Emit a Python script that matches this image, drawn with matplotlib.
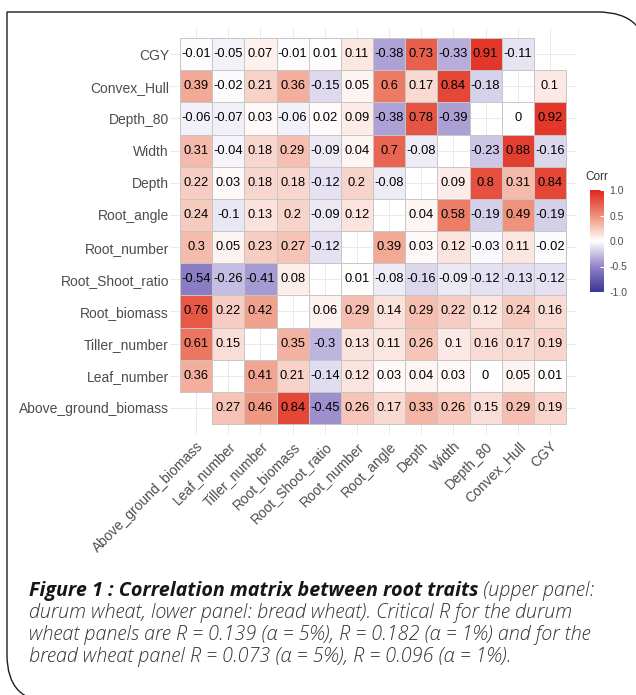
import matplotlib
matplotlib.use('Agg')
import matplotlib.pyplot as plt
import numpy as np
from matplotlib.colors import LinearSegmentedColormap, Normalize
from matplotlib.cm import ScalarMappable
from matplotlib.path import Path
from matplotlib.patches import PathPatch, Rectangle

# --- Data ---
TRAITS = ['Above_ground_biomass', 'Leaf_number', 'Tiller_number', 'Root_biomass',
          'Root_Shoot_ratio', 'Root_number', 'Root_angle', 'Depth', 'Width',
          'Depth_80', 'Convex_Hull', 'CGY']
ROWS = TRAITS[::-1]  # top to bottom

nan = np.nan
# one row per trait in ROWS order, columns in TRAITS order (diagonal left blank)
CORR = np.array([
    [-0.01, -0.05, 0.07, -0.01, 0.01, 0.11, -0.38, 0.73, -0.33, 0.91, -0.11, nan],   # CGY
    [0.39, -0.02, 0.21, 0.36, -0.15, 0.05, 0.6, 0.17, 0.84, -0.18, nan, 0.1],        # Convex_Hull
    [-0.06, -0.07, 0.03, -0.06, 0.02, 0.09, -0.38, 0.78, -0.39, nan, 0, 0.92],       # Depth_80
    [0.31, -0.04, 0.18, 0.29, -0.09, 0.04, 0.7, -0.08, nan, -0.23, 0.88, -0.16],     # Width
    [0.22, 0.03, 0.18, 0.18, -0.12, 0.2, -0.08, nan, 0.09, 0.8, 0.31, 0.84],         # Depth
    [0.24, -0.1, 0.13, 0.2, -0.09, 0.12, nan, 0.04, 0.58, -0.19, 0.49, -0.19],       # Root_angle
    [0.3, 0.05, 0.23, 0.27, -0.12, nan, 0.39, 0.03, 0.12, -0.03, 0.11, -0.02],       # Root_number
    [-0.54, -0.26, -0.41, 0.08, nan, 0.01, -0.08, -0.16, -0.09, -0.12, -0.13, -0.12],  # Root_Shoot_ratio
    [0.76, 0.22, 0.42, nan, 0.06, 0.29, 0.14, 0.29, 0.22, 0.12, 0.24, 0.16],         # Root_biomass
    [0.61, 0.15, nan, 0.35, -0.3, 0.13, 0.11, 0.26, 0.1, 0.16, 0.17, 0.19],          # Tiller_number
    [0.36, nan, 0.41, 0.21, -0.14, 0.12, 0.03, 0.04, 0.03, 0, 0.05, 0.01],           # Leaf_number
    [nan, 0.27, 0.46, 0.84, -0.45, 0.26, 0.17, 0.33, 0.26, 0.15, 0.29, 0.19],        # Above_ground_biomass
])

CBAR_TICKS = [-1.0, -0.5, 0.0, 0.5, 1.0]

CAPTION_BOLD = 'Figure 1 : Correlation matrix between root traits'
CAPTION_LINES = [
    ' (upper panel:',
    'durum wheat, lower panel: bread wheat). Critical R for the durum',
    'wheat panels are R = 0.139 (α = 5%), R = 0.182 (α = 1%) and for the',
    'bread wheat panel R = 0.073 (α = 5%), R = 0.096 (α = 1%).',
]

# --- Style ---
W, H = 636, 695
CELL_FONT = 'Liberation Sans'
CAP_FONT = 'Open Sans'
LABEL_GRAY = '#4d4d4d'

cmap = LinearSegmentedColormap.from_list('corr', [
    (0.0, '#3a3597'),
    (0.25, '#9384c8'),
    (0.5, '#ffffff'),
    (0.75, '#ee9078'),
    (1.0, '#e0261b'),
])
norm = Normalize(vmin=-1, vmax=1)

fig = plt.figure(figsize=(W / 100, H / 100), dpi=100)

# background layer in pixel coordinates (frame + caption)
ax_bg = fig.add_axes([0, 0, 1, 1], zorder=0)
ax_bg.set_xlim(0, W)
ax_bg.set_ylim(H, 0)
ax_bg.axis('off')

frame = Path(
    [(52, 702), (7, 702), (7, 655), (7, 12), (598, 12), (648, 12), (648, 62)],
    [Path.MOVETO, Path.CURVE3, Path.CURVE3, Path.LINETO, Path.LINETO, Path.CURVE3, Path.CURVE3],
)
ax_bg.add_patch(PathPatch(frame, facecolor='none', edgecolor='#1e1e1e', linewidth=1.0))

# --- Heatmap ---
cell = 32.17
x0, y0 = 180, 38          # top-left corner of the tile block (px)
ext = 0.3                 # grid overhang, in cells
n = len(TRAITS)
left = (x0 - ext * cell) / W
bottom = 1 - (y0 + (n + ext) * cell) / H
size_w = (n + 2 * ext) * cell / W
size_h = (n + 2 * ext) * cell / H
ax = fig.add_axes([left, bottom, size_w, size_h], zorder=1)
ax.set_facecolor('none')

# tiles only where a coefficient exists, so the diagonal stays open
for i in range(n):
    for j in range(n):
        v = CORR[i, j]
        if np.isnan(v):
            continue
        ax.add_patch(Rectangle((j - 0.5, i - 0.5), 1, 1, facecolor=cmap(norm(v)),
                               edgecolor='#c6c6c6', linewidth=0.7, zorder=2))
        ax.text(j, i, f'{round(v, 2):g}', ha='center', va='center',
                fontsize=9.3, family=CELL_FONT, color='black', zorder=3)

ax.set_xlim(-0.5 - ext, n - 0.5 + ext)
ax.set_ylim(n - 0.5 + ext, -0.5 - ext)
ax.set_xticks(range(n))
ax.set_yticks(range(n))
ax.set_xticklabels(TRAITS, rotation=45, ha='right', va='top', rotation_mode='anchor',
                   fontsize=10, family=CELL_FONT, color=LABEL_GRAY)
ax.set_yticklabels(ROWS, fontsize=10, family=CELL_FONT, color=LABEL_GRAY)
ax.tick_params(length=0, pad=1)
ax.tick_params(axis='x', pad=4)
ax.grid(True, color='#e6e6e6', linewidth=0.6, zorder=0)
ax.set_axisbelow(True)
for s in ax.spines.values():
    s.set_visible(False)

# --- Colour bar ---
cax = fig.add_axes([590 / W, 1 - 292 / H, 14 / W, 102 / H], zorder=1)
cb = fig.colorbar(ScalarMappable(norm=norm, cmap=cmap), cax=cax, ticks=CBAR_TICKS)
cb.outline.set_visible(False)
cb.ax.set_yticklabels([f'{t:.1f}' for t in CBAR_TICKS])
cb.ax.tick_params(color='white', length=3, width=0.8, direction='in', pad=4,
                  labelsize=7.5, labelcolor=LABEL_GRAY)
for lab in cb.ax.get_yticklabels():
    lab.set_family(CELL_FONT)
ax_bg.text(585, 180, 'Corr', fontsize=8.5, family=CELL_FONT, color='#333333', va='baseline')

# --- Caption ---
cap_x = 29
baselines = [596, 618, 640, 662]
cap_size = 14.2
renderer = fig.canvas.get_renderer()
t = ax_bg.text(cap_x, baselines[0], CAPTION_BOLD, fontsize=cap_size, family=CAP_FONT,
               style='italic', weight='bold', color='#161616', va='baseline')
bold_w = t.get_window_extent(renderer).width
ax_bg.text(cap_x + bold_w, baselines[0], CAPTION_LINES[0], fontsize=cap_size, family=CAP_FONT,
           style='italic', weight='light', color='#333333', va='baseline')
for line, yb in zip(CAPTION_LINES[1:], baselines[1:]):
    ax_bg.text(cap_x, yb, line, fontsize=cap_size, family=CAP_FONT,
               style='italic', weight='light', color='#333333', va='baseline')

fig.savefig('out.png', dpi=100)
